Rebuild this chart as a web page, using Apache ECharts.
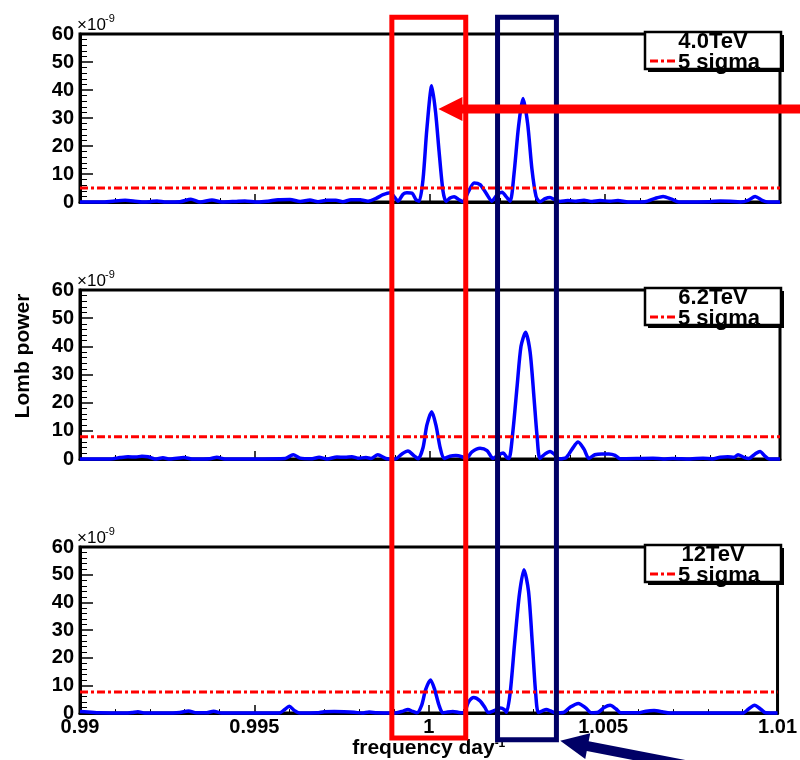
<!DOCTYPE html>
<html>
<head>
<meta charset="utf-8">
<script src="https://cdn.jsdelivr.net/npm/echarts@6/dist/echarts.min.js"></script>
<style>
html,body{margin:0;padding:0;background:#fff;}
#chart{width:800px;height:760px;}
</style>
</head>
<body>
<div id="chart"></div>
<script>
// ---------------- data ----------------
const panelNames = ['4.0TeV', '6.2TeV', '12TeV'];
const sigmaLevels = [5.0, 7.9, 7.6];
const sigmaName = '5 sigma';
const xTickMin = 0.99, xTickMax = 1.01, xTickStep = 0.005;
const yTickMin = 0, yTickMax = 60, yTickStep = 10;

const freq1 = [0.99000,0.99071,0.99094,0.99129,0.99157,0.99177,0.99200,0.99220,0.99246,0.99286,0.99317,0.99343,0.99377,0.99406,0.99443,0.99471,0.99509,0.99537,0.99566,0.99600,0.99629,0.99657,0.99680,0.99706,0.99731,0.99751,0.99774,0.99800,0.99823,0.99846,0.99866,0.99886,0.99897,0.99909,0.99923,0.99934,0.99949,0.99960,0.99969,0.99980,0.99991,1.00005,1.00016,1.00026,1.00037,1.00046,1.00057,1.00069,1.00083,1.00094,1.00109,1.00126,1.00143,1.00160,1.00177,1.00191,1.00206,1.00217,1.00229,1.00240,1.00253,1.00266,1.00279,1.00291,1.00303,1.00314,1.00329,1.00343,1.00357,1.00371,1.00394,1.00417,1.00440,1.00463,1.00486,1.00514,1.00537,1.00566,1.00614,1.00643,1.00666,1.00689,1.00711,1.00800,1.00829,1.00857,1.00886,1.00909,1.00929,1.00949,1.00966,1.01000];
const power1 = [0,0,0.3,0.6,0.3,0,0.1,0.4,0,0.1,1.0,0,0.7,0,0.2,0.4,0,0.3,0.8,0.9,0.2,0.7,0.1,0.6,0.6,0.1,0.8,0.8,0.3,1.3,2.6,3.3,2.0,0.3,2.8,3.3,3.1,0.8,0.3,8,26,41.5,32,18,4,0.2,1.4,1.9,0.8,0.1,3.5,6.8,6.2,3.2,0.3,2.5,3.5,2.0,0.3,10,27,37,28,12,2,0.1,1.2,1.6,0.8,0.2,0.5,0.3,0.6,0.2,0.5,0.3,0.5,0,0.1,1.3,2.0,1.1,0,0.1,0.4,0.3,0,0.6,2.0,0.6,0,0];

const freq2 = [0.99000,0.99086,0.99114,0.99137,0.99160,0.99177,0.99194,0.99214,0.99237,0.99257,0.99297,0.99320,0.99371,0.99391,0.99414,0.99586,0.99609,0.99629,0.99663,0.99683,0.99706,0.99734,0.99757,0.99777,0.99794,0.99817,0.99831,0.99851,0.99874,0.99900,0.99920,0.99937,0.99954,0.99966,0.99980,0.99991,1.00005,1.00017,1.00029,1.00040,1.00057,1.00074,1.00091,1.00103,1.00120,1.00143,1.00163,1.00180,1.00194,1.00209,1.00220,1.00226,1.00237,1.00249,1.00260,1.00273,1.00286,1.00297,1.00306,1.00314,1.00329,1.00343,1.00357,1.00369,1.00389,1.00406,1.00423,1.00440,1.00454,1.00471,1.00491,1.00511,1.00529,1.00543,1.00637,1.00666,1.00694,1.00743,1.00780,1.00806,1.00829,1.00851,1.00869,1.00880,1.00897,1.00911,1.00929,1.00943,1.00957,1.00969,1.01000];
const power2 = [0,0,0.5,0.8,0.7,1.0,0.8,0,0.4,0,0.5,0,0.1,0.6,0,0.2,1.5,0.3,0.1,0.6,0,0.7,0.6,0.8,0.3,0.5,0.2,1.5,0.2,0,1.8,2.8,1.2,0.1,4,12,16.8,12,4,0.2,1.0,1.2,0.8,0.1,2.5,3.8,3.0,0.2,1.3,2.1,0.5,0.2,10,26,40,45,38,22,8,0.2,1.8,2.7,1.5,0.1,0.5,3.5,6.0,3.5,0.2,1.5,1.8,1.8,1.3,0.1,0.3,0,0.2,0,0.3,0,0.6,0.8,0.6,1.5,0.6,0.2,1.8,2.7,1.0,0,0];

const freq3 = [0.99000,0.99023,0.99057,0.99129,0.99149,0.99166,0.99186,0.99243,0.99286,0.99311,0.99334,0.99363,0.99383,0.99406,0.99571,0.99586,0.99600,0.99614,0.99629,0.99680,0.99700,0.99729,0.99757,0.99786,0.99809,0.99829,0.99851,0.99900,0.99926,0.99940,0.99954,0.99966,0.99980,0.99991,1.00005,1.00017,1.00029,1.00040,1.00054,1.00069,1.00086,1.00100,1.00114,1.00129,1.00146,1.00160,1.00171,1.00189,1.00206,1.00217,1.00223,1.00234,1.00246,1.00260,1.00273,1.00286,1.00297,1.00306,1.00314,1.00326,1.00337,1.00349,1.00363,1.00386,1.00406,1.00429,1.00449,1.00466,1.00486,1.00503,1.00520,1.00537,1.00551,1.00600,1.00623,1.00646,1.00669,1.00691,1.00900,1.00917,1.00934,1.00951,1.00966,1.01000];
const power3 = [0.6,0.4,0.1,0,0.2,0.5,0,0,0.2,0.8,0.1,0.1,0.7,0,0,1.2,2.5,1.0,0,0.1,0.5,0.6,0.5,0.3,0,0.4,0.1,0,0.7,1.3,0.6,0.1,3,8.5,12,8.5,3,0.1,0.4,0.6,0.2,0.1,4.0,5.6,4.5,2.2,0.2,1.0,1.8,1.2,0.3,8,25,43,51.8,44,25,8,0.2,0.8,1.3,0.8,0.1,0.2,2.2,3.5,2.0,0.1,0.3,2.0,2.8,1.5,0.1,0.1,0.7,0.9,0.5,0,0,1.5,2.8,1.5,0.1,0];

const freqs = [freq1, freq2, freq3];
const powers = [power1, power2, power3];

// ---------------- annotation anchors (data units) ----------------
const redBox  = {from: 0.99891, to: 1.00106, top: 66, bottom: -9.0};   // top in panel 1 units, bottom in panel 3 units
const navyBox = {from: 1.00193, to: 1.00366, top: 66, bottom: -9.6};
const redArrowTip  = [1.00024, 33.2];   // panel 1
const navyArrowTip = [1.00377, -10.0];  // panel 3

// ---------------- layout / style ----------------
const FONT = '"Liberation Sans", Arial, Helvetica, sans-serif';
const gridTops = [34, 290, 547];
const gridHeights = [168, 169, 169];
const RED = '#ff0000', NAVY = '#000066', BLUE = '#0000ff';
const DASHDOT = [8, 3, 3, 3];

const chart = echarts.init(document.getElementById('chart'), null, {renderer: 'canvas'});

const grids = gridTops.map((t, i) => ({
  left: 80, right: 20, top: t, height: gridHeights[i],
  show: true, borderColor: '#000', borderWidth: 3, backgroundColor: 'transparent'
}));

const xAxes = [0, 1, 2].map(i => ({
  type: 'value', gridIndex: i, min: xTickMin, max: xTickMax, interval: xTickStep,
  axisLine: {show: true, onZero: false, lineStyle: {color: '#000', width: 3}},
  axisTick: {show: true, inside: true, length: 8, lineStyle: {color: '#000', width: 1.5}},
  minorTick: {show: true, splitNumber: 5, length: 4, lineStyle: {color: '#000', width: 1}},
  splitLine: {show: false},
  axisLabel: {
    show: i === 2, color: '#000', fontSize: 20, fontWeight: 'bold', fontFamily: FONT, margin: 4,
    formatter: v => String(parseFloat(v.toFixed(3)))
  },
  name: i === 2 ? 'frequency day{sup|-1}' : '',
  nameLocation: 'middle', nameGap: 24,
  nameTextStyle: {
    color: '#000', fontSize: 21, fontWeight: 'bold', fontFamily: FONT,
    rich: {sup: {fontSize: 12, fontWeight: 'bold', fontFamily: FONT, color: '#000', verticalAlign: 'top'}}
  }
}));

const yAxes = [0, 1, 2].map(i => ({
  type: 'value', gridIndex: i, min: yTickMin, max: yTickMax, interval: yTickStep,
  axisLine: {show: true, lineStyle: {color: '#000', width: 3}},
  axisTick: {show: true, inside: true, length: 13, lineStyle: {color: '#000', width: 1.5}},
  minorTick: {show: true, splitNumber: 5, length: 7, lineStyle: {color: '#000', width: 1}},
  splitLine: {show: false},
  axisLabel: {color: '#000', fontSize: 20, fontWeight: 'bold', fontFamily: FONT, margin: 6}
}));

const series = [];
[0, 1, 2].forEach(i => {
  series.push({
    type: 'line', name: panelNames[i], xAxisIndex: i, yAxisIndex: i,
    data: freqs[i].map((f, k) => [f, powers[i][k]]),
    showSymbol: false, smooth: 0.25, clip: false, z: 3,
    lineStyle: {color: BLUE, width: 3.5}, itemStyle: {color: BLUE}
  });
  series.push({
    type: 'line', name: sigmaName, xAxisIndex: i, yAxisIndex: i,
    data: [[xTickMin, sigmaLevels[i]], [xTickMax, sigmaLevels[i]]],
    showSymbol: false, z: 4,
    lineStyle: {color: RED, width: 3, type: DASHDOT}, itemStyle: {color: RED}
  });
});

chart.setOption({
  animation: false,
  backgroundColor: '#fff',
  grid: grids, xAxis: xAxes, yAxis: yAxes, series: series
});

// ---------------- overlay graphics ----------------
const toPx = (g, pt) => chart.convertToPixel({gridIndex: g}, pt);
const elements = [];

// "x10^-9" exponent labels and legends
gridTops.forEach((t, i) => {
  elements.push({type: 'text', x: 77, y: t - 9, z: 50,
    style: {text: '\u00d710', fill: '#000', font: '17px ' + FONT, textAlign: 'left', textVerticalAlign: 'middle'}});
  elements.push({type: 'text', x: 105, y: t - 15, z: 50,
    style: {text: '-9', fill: '#000', font: '11px ' + FONT, textAlign: 'left', textVerticalAlign: 'middle'}});
  // legend shadow + box
  elements.push({type: 'rect', z: 60, shape: {x: 648, y: t + 1, width: 136, height: 37}, style: {fill: '#000'}});
  elements.push({type: 'rect', z: 61, shape: {x: 645, y: t - 2, width: 136, height: 37},
    style: {fill: '#fff', stroke: '#000', lineWidth: 2.5}});
  elements.push({type: 'text', x: 713, y: t + 8, z: 62,
    style: {text: panelNames[i], fill: '#000', font: 'bold 22px ' + FONT, textAlign: 'center', textVerticalAlign: 'middle'}});
  elements.push({type: 'line', z: 62, shape: {x1: 650, y1: t + 27, x2: 676, y2: t + 27},
    style: {stroke: RED, lineWidth: 3, lineDash: DASHDOT}});
  elements.push({type: 'text', x: 678, y: t + 29, z: 62,
    style: {text: sigmaName, fill: '#000', font: 'bold 22px ' + FONT, textAlign: 'left', textVerticalAlign: 'middle'}});
});

// y axis title
elements.push({type: 'text', x: 23, y: 356, rotation: Math.PI / 2, z: 50,
  style: {text: 'Lomb power', fill: '#000', font: 'bold 21px ' + FONT, textAlign: 'center', textVerticalAlign: 'middle'}});

// highlight boxes
[[redBox, RED], [navyBox, NAVY]].forEach(([b, col]) => {
  const tl = toPx(0, [b.from, b.top]);
  const br = toPx(2, [b.to, b.bottom]);
  elements.push({type: 'rect', z: 80, shape: {x: tl[0], y: tl[1], width: br[0] - tl[0], height: br[1] - tl[1]},
    style: {fill: 'none', stroke: col, lineWidth: 5}});
});

// arrows
function arrow(tip, angleDeg, headLen, headHalf, shaftHalf, len) {
  const a = angleDeg * Math.PI / 180;
  const d = [Math.cos(a), Math.sin(a)], n = [-Math.sin(a), Math.cos(a)];
  const p = (l, w) => [tip[0] + d[0] * l + n[0] * w, tip[1] + d[1] * l + n[1] * w];
  return [tip, p(headLen, headHalf), p(headLen, shaftHalf), p(len, shaftHalf),
          p(len, -shaftHalf), p(headLen, -shaftHalf), p(headLen, -headHalf)];
}
elements.push({type: 'polygon', z: 90, shape: {points: arrow(toPx(0, redArrowTip), 0, 24, 12, 4.5, 420)}, style: {fill: RED}});
elements.push({type: 'polygon', z: 90, shape: {points: arrow(toPx(2, navyArrowTip), 11, 28, 13, 5, 320)}, style: {fill: NAVY}});

chart.setOption({graphic: {elements: elements}});
</script>
</body>
</html>
